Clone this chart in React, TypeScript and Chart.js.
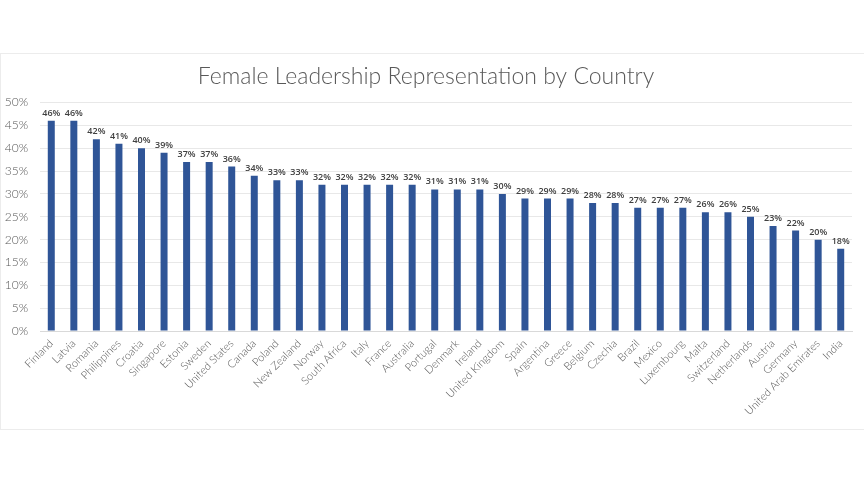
import React, { useEffect, useRef } from "react";
import { Chart, registerables } from "chart.js";

Chart.register(...registerables);

const countries = [
  "Finland", "Latvia", "Romania", "Philippines", "Croatia", "Singapore", "Estonia", "Sweden",
  "United States", "Canada", "Poland", "New Zealand", "Norway", "South Africa", "Italy", "France",
  "Australia", "Portugal", "Denmark", "Ireland", "United Kingdom", "Spain", "Argentina", "Greece",
  "Belgium", "Czechia", "Brazil", "Mexico", "Luxembourg", "Malta", "Switzerland", "Netherlands",
  "Austria", "Germany", "United Arab Emirates", "India",
];

const shares = [
  46, 46, 42, 41, 40, 39, 37, 37, 36, 34, 33, 33, 32, 32, 32, 32, 32, 31, 31, 31, 30, 29, 29, 29,
  28, 28, 27, 27, 27, 26, 26, 25, 23, 22, 20, 18,
];

const chartTitle = "Female Leadership Representation by Country";

const valueLabels = {
  id: "valueLabels",
  afterDatasetsDraw(chart: any) {
    const ctx = chart.ctx;
    const meta = chart.getDatasetMeta(0);
    ctx.save();
    ctx.font = "600 9px 'Open Sans', sans-serif";
    ctx.fillStyle = "#404040";
    ctx.textAlign = "center";
    ctx.textBaseline = "bottom";
    meta.data.forEach((el: any, i: number) => {
      ctx.fillText(shares[i] + "%", el.x, el.y - 3);
    });
    ctx.restore();
  },
};

export default function App() {
  const ref = useRef<HTMLCanvasElement | null>(null);

  useEffect(() => {
    document.body.style.margin = "0";
    if (!ref.current) return;
    const chart = new Chart(ref.current, {
      type: "bar",
      data: {
        labels: countries,
        datasets: [
          {
            data: shares,
            backgroundColor: "#2F5597",
            categoryPercentage: 1,
            barPercentage: 0.31,
          },
        ],
      },
      options: {
        responsive: false,
        animation: false,
        layout: { padding: { left: 0, right: 12, top: 0, bottom: 0 } },
        plugins: {
          legend: { display: false },
          tooltip: { enabled: false },
          title: {
            display: true,
            text: chartTitle,
            color: "#595959",
            font: { family: "Lato, 'Open Sans', sans-serif", size: 23, weight: "300" as any },
            padding: { top: 63, bottom: 12 },
          },
        },
        scales: {
          x: {
            grid: { display: false, drawTicks: false },
            border: { display: true, color: "#d9d9d9" },
            ticks: {
              color: "#595959",
              font: { family: "Lato, 'Open Sans', sans-serif", size: 11, weight: "300" as any },
              minRotation: 45,
              maxRotation: 45,
              autoSkip: false,
              padding: 6,
            },
            afterFit: (s: any) => {
              s.height = 155;
            },
          },
          y: {
            min: 0,
            max: 50,
            grid: { color: "#e8e8e8", drawTicks: false },
            border: { display: false },
            ticks: {
              stepSize: 5,
              color: "#595959",
              padding: 12,
              font: { family: "Lato, 'Open Sans', sans-serif", size: 12, weight: "300" as any },
              callback: (v: any) => v + "%",
            },
            afterFit: (s: any) => {
              s.width = 40;
            },
          },
        },
      },
      plugins: [valueLabels],
    });
    return () => chart.destroy();
  }, []);

  return (
    <div style={{ position: "relative", width: 864, height: 486, background: "#fff" }}>
      <div
        style={{
          position: "absolute",
          left: 0,
          top: 53,
          width: 880,
          height: 377,
          border: "1px solid #ececec",
          boxSizing: "border-box",
        }}
      />
      <canvas ref={ref} width={864} height={486} style={{ position: "absolute", left: 0, top: 0 }} />
    </div>
  );
}
